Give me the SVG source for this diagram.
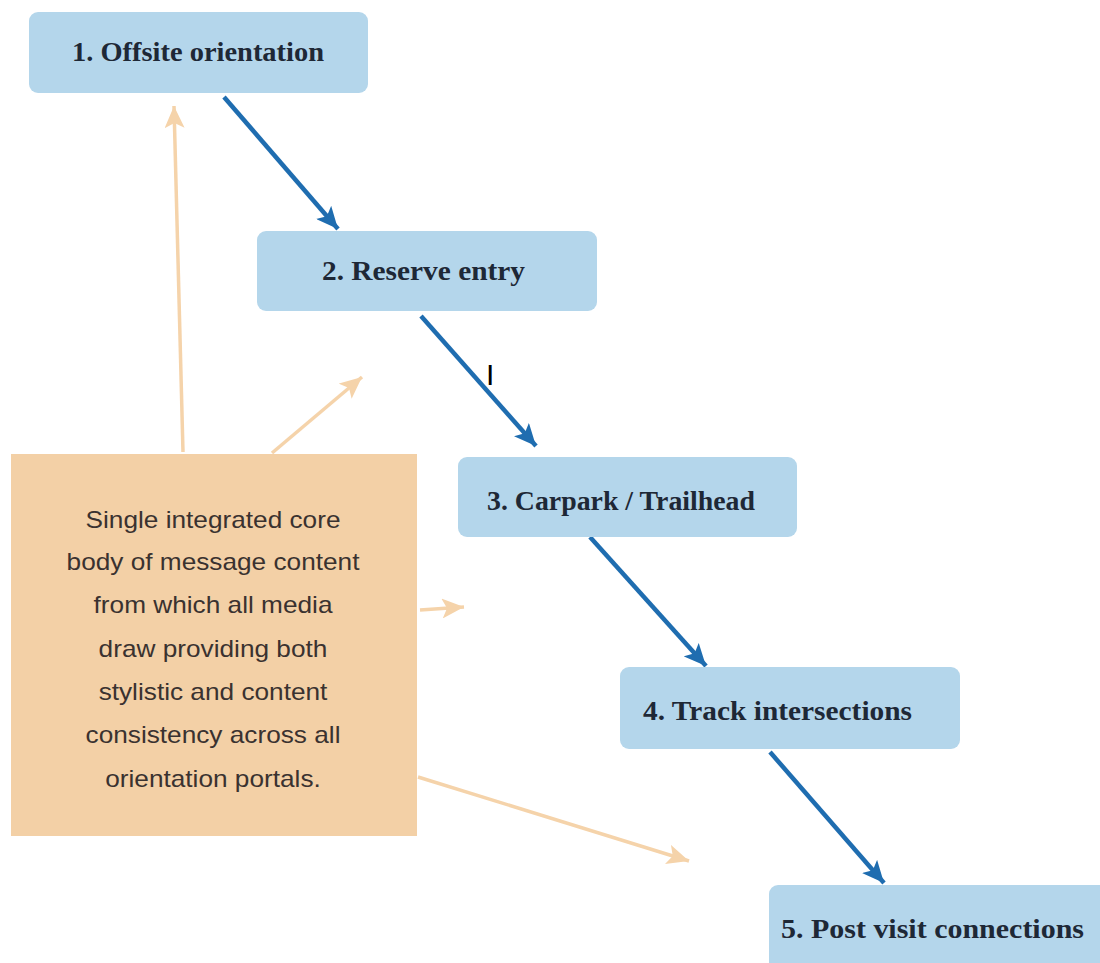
<svg xmlns="http://www.w3.org/2000/svg" width="1100" height="963" viewBox="0 0 1100 963">
<style>
.node{fill:#B4D6EB;}
.lbl{font-family:"Liberation Serif","Times New Roman",serif;font-weight:bold;font-size:27px;fill:#1E2836;}
.core{fill:#F3D0A6;}
.ctext{font-family:"Liberation Sans",Arial,sans-serif;font-size:23px;fill:#3A3230;text-anchor:middle;}
.blue{stroke:#1F6DB0;stroke-width:4.5;fill:none;marker-end:url(#ab);}
.orange{stroke:#F5D3AA;stroke-width:3.5;fill:none;marker-end:url(#ao);}
</style>
<defs>
<marker id="ab" markerUnits="userSpaceOnUse" markerWidth="24" markerHeight="20" refX="22" refY="10" orient="auto">
<path d="M0,0 L22,10 L0,20 L5,10 Z" fill="#1F6DB0"/>
</marker>
<marker id="ao" markerUnits="userSpaceOnUse" markerWidth="24" markerHeight="20" refX="22" refY="10" orient="auto">
<path d="M0,0 L22,10 L0,20 L5,10 Z" fill="#F5D3AA"/>
</marker>
</defs>
<rect width="1100" height="963" fill="#FFFFFF"/>
<g id="connectors">
<line class="blue" x1="224" y1="97" x2="338" y2="229"/>
<line class="blue" x1="421" y1="316" x2="536" y2="446"/>
<line class="blue" x1="590" y1="537" x2="706" y2="666"/>
<line class="blue" x1="770" y1="752" x2="884" y2="883"/>
<line class="orange" x1="183" y1="452" x2="174" y2="106"/>
<line class="orange" x1="272" y1="453" x2="362" y2="377"/>
<line class="orange" x1="420" y1="610" x2="464" y2="607"/>
<line class="orange" x1="418" y1="777" x2="689" y2="861"/>
</g>
<g id="node1">
<rect class="node" x="29" y="12" width="339" height="81" rx="9"/>
<text class="lbl" x="72" y="61" textLength="252" lengthAdjust="spacingAndGlyphs">1. Offsite  orientation</text>
</g>
<g id="node2">
<rect class="node" x="257" y="231" width="340" height="80" rx="9"/>
<text class="lbl" x="322" y="280" textLength="203" lengthAdjust="spacingAndGlyphs">2. Reserve entry</text>
</g>
<g id="node3">
<rect class="node" x="458" y="457" width="339" height="80" rx="9"/>
<text class="lbl" x="487" y="510" textLength="268" lengthAdjust="spacingAndGlyphs">3. Carpark  / Trailhead</text>
</g>
<g id="node4">
<rect class="node" x="620" y="667" width="340" height="82" rx="9"/>
<text class="lbl" x="643" y="720" textLength="269" lengthAdjust="spacingAndGlyphs">4. Track  intersections</text>
</g>
<g id="node5">
<rect class="node" x="769" y="885" width="345" height="90" rx="9"/>
<text class="lbl" x="781" y="938" textLength="303" lengthAdjust="spacingAndGlyphs">5. Post visit  connections</text>
</g>
<g id="note">
<rect class="core" x="11" y="454" width="406" height="382"/>
<g transform="translate(213,0) scale(1.14,1)">
<text class="ctext" x="0" y="528">Single integrated core</text>
<text class="ctext" x="0" y="570">body of message content</text>
<text class="ctext" x="0" y="613">from which all media</text>
<text class="ctext" x="0" y="657">draw providing both</text>
<text class="ctext" x="0" y="700">stylistic and content</text>
<text class="ctext" x="0" y="743">consistency across all</text>
<text class="ctext" x="0" y="787">orientation portals.</text>
</g>
</g>
<text x="486" y="385" font-family="Liberation Sans, Arial, sans-serif" font-size="30" fill="#000000">I</text>
</svg>
